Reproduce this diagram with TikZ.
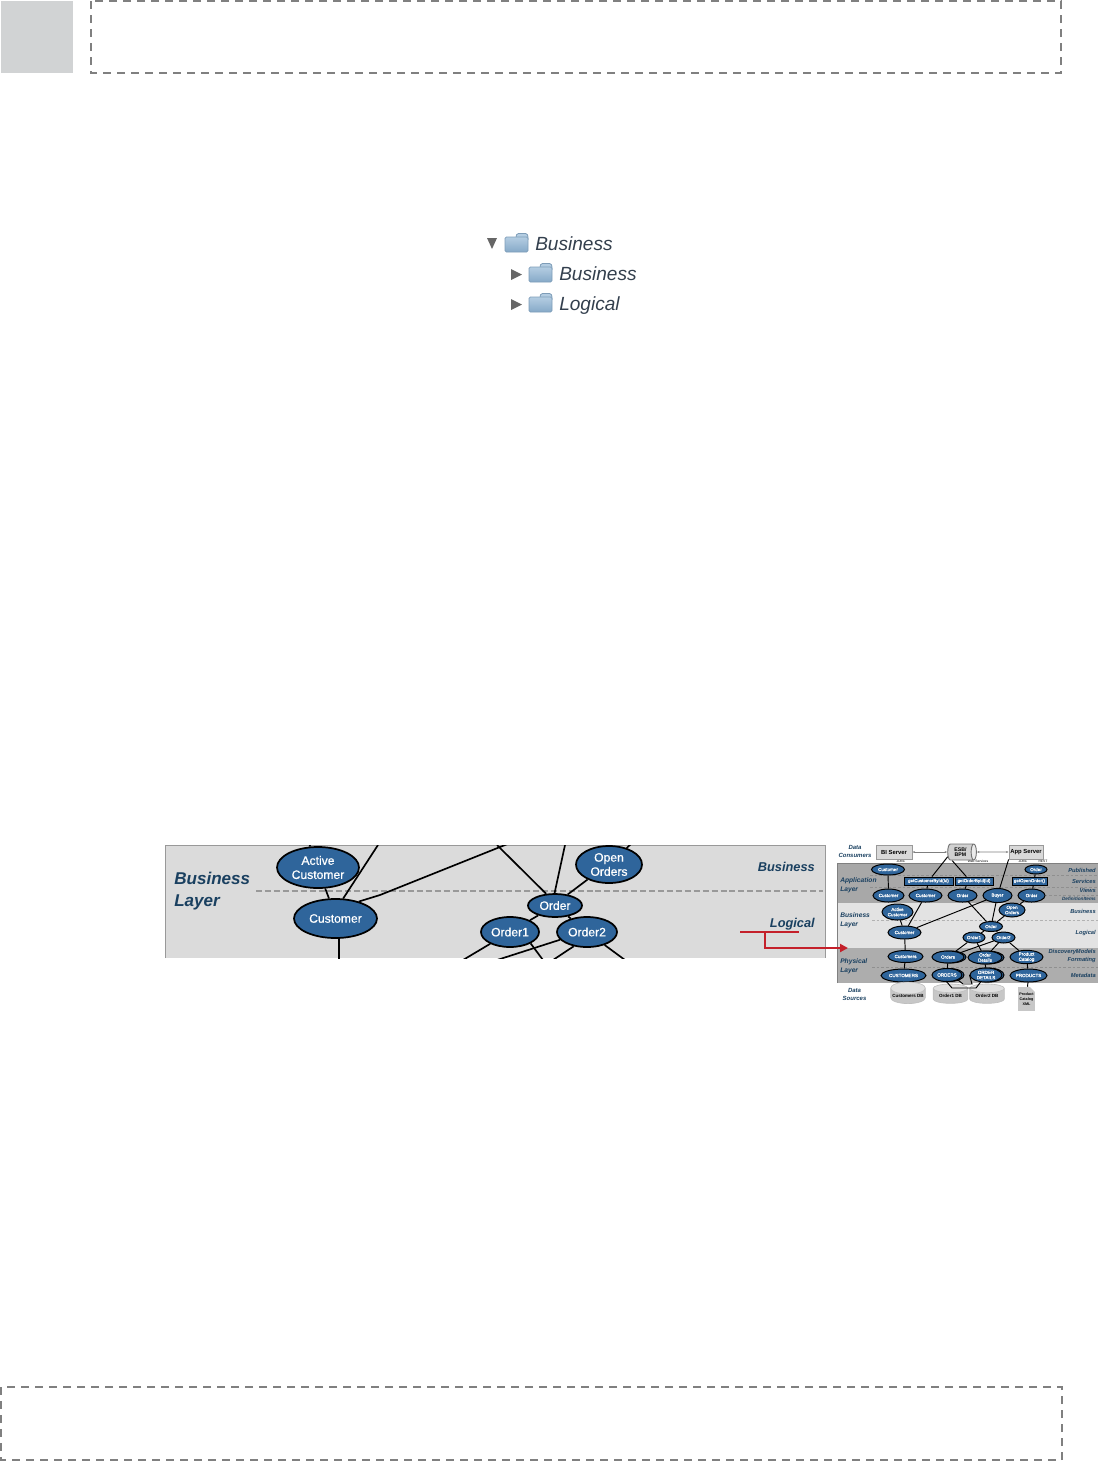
\documentclass[tikz,border=0pt]{standalone}
\usepackage{fontspec}
\setmainfont{Liberation Sans}
\newfontface\bubfont{Liberation Sans}[FakeBold=0.6]
\usetikzlibrary{shapes.geometric,arrows.meta}
\pgfdeclarelayer{bandlayer}
\pgfdeclarelayer{linelayer}
\pgfsetlayers{bandlayer,linelayer,main}
\definecolor{bubblefill}{HTML}{2F659B}
\definecolor{labelblue}{HTML}{1A4060}
\definecolor{dashgray}{HTML}{808080}
\definecolor{redline}{HTML}{C4202A}
\definecolor{foldertop}{HTML}{B4CDE2}
\definecolor{folderbot}{HTML}{86A9C8}
\definecolor{folderedge}{HTML}{7E9DB8}
\definecolor{treetext}{HTML}{333F4D}
\definecolor{squaregray}{HTML}{D1D3D4}
\newcommand{\folderat}[2]{%
  \begin{scope}[shift={(#1,#2)}]
    \path[draw=folderedge,fill=foldertop,line width=.6pt,rounded corners=1pt]
      (11,3)--(12,0.5)--(22,0.5)--(23,3)--(23,8)--(11,8)--cycle;
    \path[draw=folderedge,top color=foldertop,bottom color=folderbot,line width=.6pt,rounded corners=1pt]
      (0,4)--(23,4)--(23,19)--(0,19)--cycle;
  \end{scope}}
\tikzset{
  x=0.75pt,y=-0.75pt,
  bigbub/.style 2 args={ellipse,minimum width=#1*0.75pt,minimum height=#2*0.75pt,inner sep=0pt,fill=bubblefill,draw=black,line width=1.3pt,text=white,align=center,font=\bubfont\fontsize{9.1}{10.6}\selectfont},
  bub/.style 2 args={ellipse,minimum width=#1*0.75pt,minimum height=#2*0.75pt,inner sep=0pt,fill=bubblefill,draw=black,line width=.75pt,text=white,align=center,font=\bubfont\fontsize{3.4}{3.9}\selectfont},
  svcbox/.style 2 args={rectangle,minimum width=#1*0.75pt,minimum height=#2*0.75pt,inner sep=0pt,fill=bubblefill,draw=black,line width=.6pt,text=white,font=\bubfont\fontsize{3.3}{4}\selectfont},
  srvbox/.style 2 args={rectangle,minimum width=#1*0.75pt,minimum height=#2*0.75pt,inner sep=0pt,fill=black!15,draw=black!40,line width=.6pt,text=black,font=\bfseries\fontsize{4.4}{5}\selectfont},
  dbcyl/.style={cylinder,shape border rotate=90,shape aspect=.38,minimum width=26pt,minimum height=14.5pt,inner sep=0pt,draw=black!25,line width=.5pt,cylinder uses custom fill,cylinder body fill=black!22,cylinder end fill=black!12,text=black,font=\bfseries\fontsize{3.4}{4}\selectfont},
  bigline/.style={line width=1.25pt,black},
  thinline/.style={line width=.72pt,black},
  boxdash/.style={draw=dashgray,line width=1.5pt,dash pattern=on 6pt off 4.5pt},
  biglabel/.style={text=labelblue,font=\bfseries\itshape\fontsize{12.8}{16.5}\selectfont,align=left,inner sep=0pt},
  sidelabel/.style={text=labelblue,font=\bfseries\itshape\fontsize{9.6}{11}\selectfont,inner sep=0pt},
  smalllabel/.style={text=labelblue,font=\bfseries\itshape\fontsize{5}{6.6}\selectfont,align=left,inner sep=0pt},
  datalabel/.style={text=labelblue,font=\bfseries\itshape\fontsize{4.5}{5.6}\selectfont,align=center,inner sep=0pt},
  edgelabel/.style={text=labelblue,font=\bfseries\itshape\fontsize{4.3}{5}\selectfont,anchor=east,inner sep=0pt},
  tinylabel/.style={text=black,font=\fontsize{2.5}{3}\selectfont,inner sep=0pt},
  treelabel/.style={anchor=base west,inner sep=0pt,text=treetext,font=\itshape\fontsize{14.3}{16}\selectfont},
  treearrow/.style={fill=black!60},
  banddash/.style={draw=black!44,line width=.35pt,dash pattern=on 2pt off 1.5pt},
}
\begin{document}
\begin{tikzpicture}
\useasboundingbox (0,0) rectangle (1098,1461);
% page furniture
\fill[squaregray] (1,1) rectangle (73,73);
\draw[boxdash] (91,1) rectangle (1061,73);
\draw[boxdash] (1,1387) rectangle (1062,1460);
% folder tree
\fill[treearrow] (487,238)--(497,238)--(492,249)--cycle;
\fill[treearrow] (511,269)--(522,274.5)--(511,280)--cycle;
\fill[treearrow] (511,299)--(522,304.5)--(511,310)--cycle;
\folderat{505}{233}
\folderat{529}{263}
\folderat{529}{293}
\node[treelabel] (treeroot) at (535,250.5) {Business};
\node[treelabel] (treebiz) at (559,280.5) {Business};
\node[treelabel] (treelog) at (559,310.5) {Logical};
% enlarged panel
\begin{pgfonlayer}{bandlayer}
\fill[black!14] (165,845) rectangle (825,958);
\draw[black!40,line width=.7pt] (165,958)--(165,845)--(825,845)--(825,958);
\draw[black!40,line width=.9pt,dash pattern=on 4.5pt off 2.2pt] (256,891)--(823,891);
\end{pgfonlayer}
\node[biglabel,anchor=north west] (panelname) at (174,872) {Business\\Layer};
\node[sidelabel,anchor=east] (panelbiz) at (815,867) {Business};
\node[sidelabel,anchor=east] (panellog) at (815,924.5) {Logical};
\node[bigbub={82}{41}] (pActive) at (318,867.5) {Active\\Customer};
\node[bigbub={83}{39}] (pCust) at (335.5,918.5) {Customer};
\node[bigbub={66}{37}] (pOpen) at (609,864.5) {Open\\Orders};
\node[bigbub={54}{23}] (pOrder) at (555,905.5) {Order};
\node[bigbub={58}{30}] (pOrd1) at (510,932) {Order1};
\node[bigbub={60}{30}] (pOrd2) at (587,932) {Order2};
\coordinate (tA) at (309,843);
\coordinate (tC) at (378,845);
\coordinate (bend) at (380,895);
\coordinate (tE) at (510,843);
\coordinate (tF) at (497,845);
\coordinate (tG) at (565,845);
\coordinate (tH) at (632,843);
\coordinate (bI) at (339,960);
\coordinate (bJ) at (463,960);
\coordinate (bK) at (543,960);
\coordinate (bL) at (497,960);
\coordinate (bM) at (553,960);
\coordinate (bN) at (625,960);
\begin{pgfonlayer}{linelayer}
\begin{scope}
\clip (165,845) rectangle (825,958);
\draw[bigline] (pActive)--(tA);
\draw[bigline] (pCust.69)--(tC);
\draw[bigline] (pActive.-71)--(pCust.108);
\draw[bigline] (pCust.36)--(bend)--(tE);
\draw[bigline] (tF)--(pOrder.127);
\draw[bigline] (tG)--(pOrder.92);
\draw[bigline] (pOpen.215)--(pOrder.41);
\draw[bigline] (pOpen)--(tH);
\draw[bigline] (pOrder)--(pOrd1);
\draw[bigline] (pOrder)--(pOrd2);
\draw[bigline] (pOrd1)--(bJ);
\draw[bigline] (pOrd1.-29)--(bK);
\draw[bigline] (pOrd2.196)--(bL);
\draw[bigline] (pOrd2.227)--(bM);
\draw[bigline] (pOrd2)--(bN);
\draw[bigline] (pCust.-80)--(bI);
\end{scope}
\end{pgfonlayer}
% thumbnail bands
\begin{pgfonlayer}{bandlayer}
\fill[black!34] (837,863) rectangle (1098,903);
\fill[black!11] (837,903) rectangle (1098,948);
\fill[black!32] (837,948) rectangle (1098,983);
\draw[black!50,line width=.5pt] (837,983)--(837,863)--(1098,863);
\draw[banddash] (870,875)--(1098,875);
\draw[banddash] (870,887)--(1098,887);
\draw[banddash] (1040,895)--(1098,895);
\draw[banddash,draw=black!30] (872,920)--(1098,920);
\draw[banddash] (872,967)--(1098,967);
\end{pgfonlayer}
% thumbnail labels
\node[datalabel] (lConsumers) at (855,851.5) {Data\\Consumers};
\node[datalabel] (lSources) at (854.5,994.5) {Data\\Sources};
\node[smalllabel,anchor=west] (lApp) at (840,885) {Application\\Layer};
\node[smalllabel,anchor=west] (lBiz) at (840,920) {Business\\Layer};
\node[smalllabel,anchor=west] (lPhy) at (840,966) {Physical\\Layer};
\node[edgelabel] (ePub) at (1096,870) {Published};
\node[edgelabel] (eSvc) at (1096,881.5) {Services};
\node[edgelabel] (eVie) at (1096,890) {Views};
\node[edgelabel,font=\bfseries\itshape\fontsize{3.5}{4}\selectfont] (eDef) at (1096,899) {DefinitionItems};
\node[edgelabel] (eBus) at (1096,911) {Business};
\node[edgelabel] (eLog) at (1096,933.5) {Logical};
\node[edgelabel] (eDis) at (1096,952) {DiscoveryModels};
\node[edgelabel] (eFor) at (1096,960.5) {Formating};
\node[edgelabel] (eMet) at (1096,975) {Metadata};
\node[tinylabel] (tJdbcA) at (901,861.5) {JDBC};
\node[tinylabel] (tWeb) at (978,861.5) {Web Services};
\node[tinylabel] (tJdbcB) at (1023,861.5) {JDBC};
\node[tinylabel] (tRest) at (1043,861.5) {REST};
% servers
\node[srvbox={36}{14}] (biS) at (894,852) {BI Server};
\node[srvbox={34}{14}] (apS) at (1026,852) {App Server};
\node[cylinder,shape border rotate=0,shape aspect=.55,minimum width=12pt,minimum height=21.5pt,inner sep=0pt,draw=black!55,line width=.7pt,cylinder uses custom fill,cylinder body fill=black!18,cylinder end fill=black!8,text=black,align=center,font=\bfseries\fontsize{3.9}{4.3}\selectfont] (esb) at (960.5,852) {ESB/\\BPM};
% thumbnail services and entities
\node[bub={33}{11}] (cTop) at (888,869.5) {Customer};
\node[bub={22}{9}] (oTop) at (1036,869.5) {Order};
\node[svcbox={49}{8}] (sCust) at (928.5,881) {getCustomerById(Id)};
\node[svcbox={38}{8}] (sOrd) at (974,881) {getOrderById(Id)};
\node[svcbox={35}{8}] (sOpen) at (1029.5,881) {getOpenOrder()};
\node[bub={31}{13}] (vC1) at (888.5,895.5) {Customer};
\node[bub={33}{13}] (vC2) at (925.5,895.5) {Customer};
\node[bub={29}{13}] (vOr) at (962.5,895.5) {Order};
\node[bub={29}{14}] (vBu) at (997.5,895.5) {Buyer};
\node[bub={27}{13}] (vO5) at (1031.5,895.5) {Order};
\node[bub={31}{16}] (bAc) at (897.5,912) {Active\\Customer};
\node[bub={26}{14}] (bOp) at (1012,910) {Open\\Orders};
\node[bub={33}{13}] (bCu) at (904.5,932.5) {Customer};
\node[bub={23}{10}] (bOr) at (991,926.5) {Order};
\node[bub={22}{11}] (bO1) at (974,937.5) {Order1};
\node[bub={23}{11}] (bO2) at (1003.5,937.5) {Order2};
\node[bub={35}{12}] (fCu) at (905.5,956.5) {Customers};
\node[bub={32}{12}] (fOrS) at (950,957) {};
\node[bub={32}{12}] (fOr) at (948,957) {Orders};
\node[bub={34}{13}] (fDeS) at (987,957.5) {};
\node[bub={34}{13}] (fDe) at (985,957.5) {Order\\Details};
\node[bub={33}{13}] (fPr) at (1026.5,957) {Product\\Catalog};
\node[bub={45}{13}] (mCu) at (903.5,975.5) {CUSTOMERS};
\node[bub={30}{13}] (mOrS) at (949,975) {};
\node[bub={30}{13}] (mOr) at (947,975) {ORDERS};
\node[bub={32}{14}] (mDeS) at (988,975) {};
\node[bub={32}{14}] (mDe) at (986,975) {ORDER\\DETAILS};
\node[bub={37}{13}] (mPr) at (1028.5,975.5) {PRODUCTS};
\node[dbcyl] (dbA) at (908,996) {Customers DB};
\node[dbcyl] (dbB) at (950.5,996) {Order1 DB};
\node[dbcyl] (dbC) at (987,996) {Order2 DB};
\node[rectangle,minimum width=12.75pt,minimum height=18pt,inner sep=0pt,fill=black!22,text=black,align=center,font=\bfseries\fontsize{2.8}{3.6}\selectfont] (docx) at (1026.5,999) {Product\\Catalog\\XML};
\fill[white] (1030,987)--(1035.2,987)--(1035.2,992)--cycle;
% thumbnail connectors
\coordinate (xA) at (946,981);
\coordinate (xB) at (952,988);
\coordinate (xC) at (976,988);
\coordinate (xD) at (958,980);
\coordinate (xE) at (963,984);
\coordinate (xF) at (972,984);
\begin{pgfonlayer}{linelayer}
\draw[black!50,line width=.6pt,{Stealth[length=2pt]}-{Stealth[length=2pt]}] (biS)--(esb);
\draw[black!50,line width=.6pt,{Stealth[length=2pt]}-{Stealth[length=2pt]}] (esb)--(apS);
\draw[thinline] (cTop)--(vC1);
\draw[thinline] (esb.200)--(sCust);
\draw[thinline] (sCust)--(vC2);
\draw[thinline] (esb.south west)--(sOrd.150);
\draw[thinline] (sOrd.210)--(vOr);
\draw[thinline] (apS.south west)--(vBu);
\draw[thinline] (oTop)--(vO5);
\draw[thinline] (bAc)--(bCu);
\draw[thinline] (vC2)--(bCu);
\draw[thinline] (vBu)--(bCu);
\draw[thinline] (vOr)--(bOr);
\draw[thinline] (vBu)--(bOr);
\draw[thinline] (vO5)--(bOp);
\draw[thinline] (bOp)--(bOr);
\draw[thinline] (bOr)--(bO1);
\draw[thinline] (bOr)--(bO2);
\draw[thinline] (bCu)--(fCu);
\draw[thinline] (fCu)--(mCu);
\draw[thinline] (mCu)--(dbA);
\draw[thinline] (bO1)--(fOr);
\draw[thinline] (bO2)--(fOr);
\draw[thinline] (bO1)--(fDe);
\draw[thinline] (bO2)--(fDe);
\draw[thinline] (bO2)--(fPr);
\draw[thinline] (fOr)--(mOr);
\draw[thinline] (fDe)--(mDe);
\draw[thinline] (fPr)--(mPr);
\draw[thinline] (mPr)--(docx);
\end{pgfonlayer}
\draw[thinline] (xA)--(xB)--(xC)--(mDe);
\draw[thinline] (xD)--(xE)--(xF)--(mDe.west);
% red callout
\coordinate (rA) at (740,932);
\coordinate (rB) at (799,932);
\coordinate (rC) at (765,932);
\coordinate (rD) at (848,948);
\draw[redline,line width=1.9pt] (rA)--(rB);
\draw[redline,line width=1.9pt,-{Triangle[length=6pt,width=6pt]}] (rC)|-(rD);
\end{tikzpicture}
\end{document}
